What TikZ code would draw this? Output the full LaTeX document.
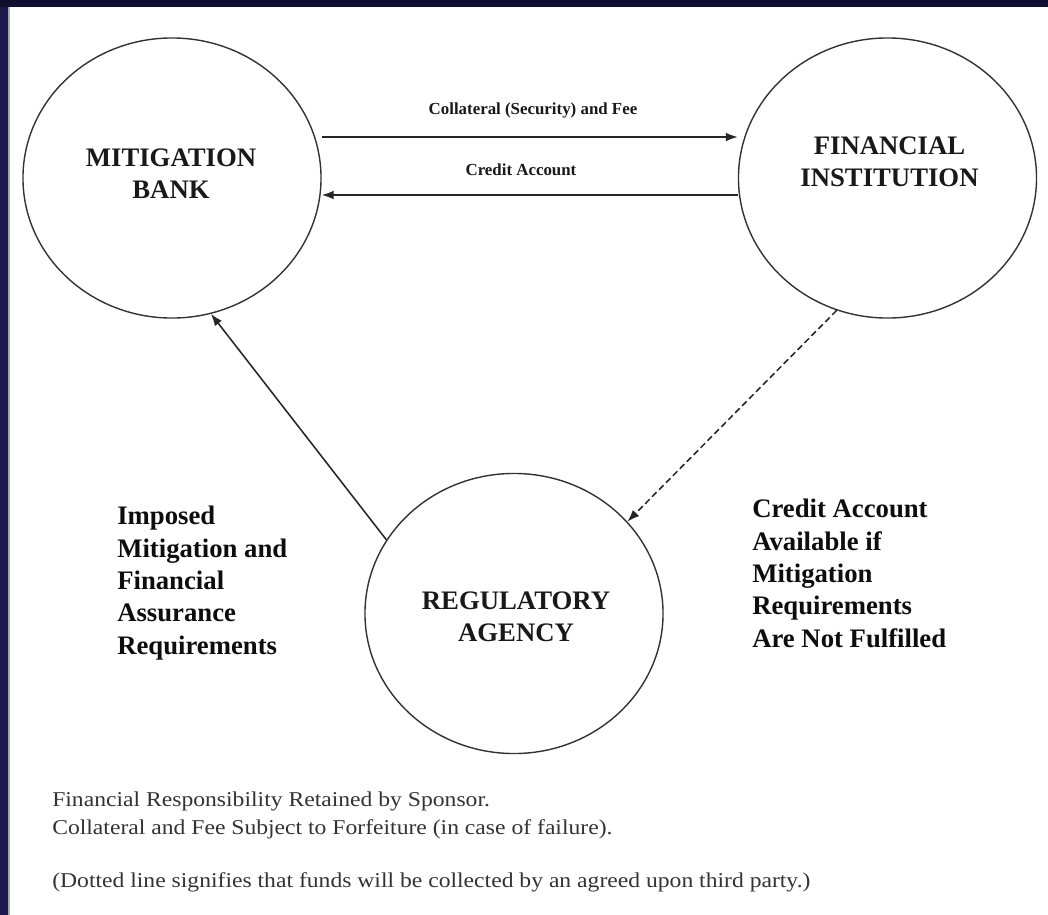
\documentclass[tikz,border=0pt]{standalone}
\usepackage{fontspec}
\setmainfont{Liberation Serif}
\newfontfamily\notefont[FakeStretch=1.12]{Liberation Serif}
\usetikzlibrary{shapes.geometric,arrows.meta}
\definecolor{navytop}{HTML}{120E30}
\definecolor{navyleft}{HTML}{1D1A4B}
\definecolor{edgegray}{HTML}{A8A8A8}
\begin{document}
\begin{tikzpicture}[x=0.025cm,y=-0.025cm,
  circ/.style={draw=black!80, line width=1pt, ellipse, minimum width=7.45cm, minimum height=7cm, inner sep=0pt},
  ctext/.style={font=\fontsize{19}{23}\selectfont\bfseries, align=center, text=black!90, inner sep=0pt},
  alabel/.style={font=\fontsize{12}{14}\selectfont\bfseries, inner sep=0pt, anchor=base, text=black!90},
  side/.style={font=\fontsize{19}{23}\selectfont\bfseries, align=left, inner sep=0pt, anchor=north west, text=black!95},
  note/.style={font=\notefont\fontsize{15}{20}\selectfont, inner sep=0pt, anchor=base west, text=black!80},
  conn/.style={line width=1.1pt, draw=black!85, -{Latex[length=3mm,width=2.2mm]}},
  dconn/.style={conn, dash pattern=on 4.5pt off 2.5pt},
]
\useasboundingbox (0,0) rectangle (1048,915);
\fill[white] (0,0) rectangle (1048,915);
\fill[navytop] (0,0) rectangle (1048,7);
\fill[navyleft] (0,7) rectangle (8,915);
\fill[edgegray] (8,7) rectangle (10,915);

\node[circ] (MB) at (172,178) {};
\node[circ] (FI) at (887.5,178) {};
\node[circ] (RA) at (514,613.5) {};

\node[ctext] (MBt) at (171,174) {MITIGATION\\BANK};
\node[ctext] (FIt) at (889.5,161.5) {FINANCIAL\\INSTITUTION};
\node[ctext] (RAt) at (516,616.5) {REGULATORY\\AGENCY};

\coordinate (ya) at (0,137);
\coordinate (yb) at (0,195);
\draw[conn] (MB.east |- ya) -- (FI.west |- ya);
\draw[conn] (FI.west |- yb) -- (MB.east |- yb);
\node[alabel] (L1) at (533,114.5) {Collateral (Security) and Fee};
\node[alabel] (L2) at (521,175.5) {Credit Account};

\draw[conn] (RA.150) -- (MB.286);
\draw[dconn] (FI.249) -- (RA.39);

\node[side] (SL) at (117,506) {Imposed\\Mitigation and\\Financial\\Assurance\\Requirements};
\node[side] (SR) at (752,499) {Credit Account\\Available if\\Mitigation\\Requirements\\Are Not Fulfilled};

\node[note] (N1) at (52,806) {Financial Responsibility Retained by Sponsor.};
\node[note] (N2) at (52,834) {Collateral and Fee Subject to Forfeiture (in case of failure).};
\node[note] (N3) at (52,887) {(Dotted line signifies that funds will be collected by an agreed upon third party.)};
\end{tikzpicture}
\end{document}
